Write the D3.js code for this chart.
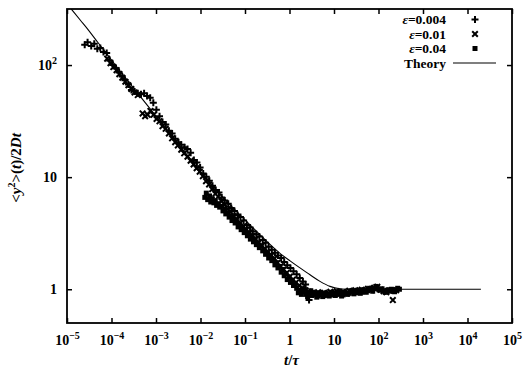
<!DOCTYPE html>
<html>
<head>
<meta charset="utf-8">
<script src="https://cdn.jsdelivr.net/npm/d3@7/dist/d3.min.js"></script>
<style>
  html, body { margin: 0; padding: 0; background: #fff; }
  svg { display: block; }
  text { font-family: "Liberation Serif", "DejaVu Serif", serif; fill: #000; }
</style>
</head>
<body>
<svg id="chart" width="523" height="367"></svg>
<script>
// Mean-square displacement <y^2>(t)/2Dt versus t/tau, three values of epsilon.
const xTickExps = [-5, -4, -3, -2, -1, 0, 1, 2, 3, 4, 5];
const yTickValues = [1, 10, 100];
const seriesNames = ["ε=0.004", "ε=0.01", "ε=0.04"];

// epsilon = 0.004  (t/tau, <y^2>/2Dt)
const eps004 = [
  [2.5e-5, 152], [2.9e-5, 160], [3.5e-5, 148], [4.1e-5, 155], [4.8e-5, 140], [5.6e-5, 142],
  [6.6e-5, 131], [7.8e-5, 128], [9.1e-5, 110], [1.07e-4, 100], [1.26e-4, 93], [1.48e-4, 86],
  [1.74e-4, 79], [2.0e-4, 73], [2.4e-4, 67], [2.8e-4, 60], [3.3e-4, 58], [3.9e-4, 56],
  [4.6e-4, 55], [5.4e-4, 56], [6.3e-4, 53], [7.4e-4, 51], [8.7e-4, 46], [1.02e-3, 40],
  [1.2e-3, 35], [1.4e-3, 31], [1.66e-3, 29.5], [1.95e-3, 26], [2.3e-3, 24.5], [2.7e-3, 22],
  [3.2e-3, 20.5], [3.7e-3, 19.5], [4.4e-3, 18.5], [5.1e-3, 17.8], [6.0e-3, 16.5], [7.1e-3, 14.2],
  [8.3e-3, 13.5], [9.8e-3, 12.2], [1.15e-2, 10.8], [1.35e-2, 10.1], [1.58e-2, 9.3], [1.86e-2, 8.4],
  [2.2e-2, 7.7], [2.6e-2, 7.3], [3.0e-2, 6.6], [3.5e-2, 6.2], [4.2e-2, 5.8], [4.9e-2, 5.3],
  [5.8e-2, 5.0], [6.8e-2, 4.6], [7.9e-2, 4.4], [9.3e-2, 4.1], [0.11, 3.75], [0.13, 3.55],
  [0.15, 3.3], [0.18, 3.1], [0.21, 2.95], [0.25, 2.75], [0.29, 2.6], [0.34, 2.4],
  [0.40, 2.25], [0.47, 2.12], [0.55, 2.0], [0.65, 1.9], [0.76, 1.75], [0.89, 1.64],
  [1.05, 1.55], [1.23, 1.45], [1.45, 1.36], [1.7, 1.26], [2.0, 1.17], [2.3, 1.1], [2.75, 0.8]
];

// epsilon = 0.01
const eps01 = [
  [8.0e-5, 114], [9.5e-5, 104], [1.1e-4, 96], [1.3e-4, 90], [1.5e-4, 83], [1.75e-4, 77],
  [2.05e-4, 71], [2.4e-4, 66], [2.8e-4, 61], [3.3e-4, 57], [3.9e-4, 54], [5.0e-4, 37],
  [5.7e-4, 35], [6.5e-4, 36], [7.5e-4, 39], [8.8e-4, 36], [1.03e-3, 33], [1.2e-3, 31.5],
  [1.4e-3, 28.5], [1.65e-3, 27], [1.95e-3, 24.5], [2.3e-3, 22.2], [2.7e-3, 20.5], [3.1e-3, 19.2],
  [3.7e-3, 17.6], [4.3e-3, 16.3], [5.1e-3, 15.2], [6.0e-3, 14], [7.0e-3, 13], [8.2e-3, 12],
  [9.6e-3, 11.2], [1.13e-2, 10.2], [1.33e-2, 9.2], [1.56e-2, 8.6], [1.83e-2, 7.8], [2.15e-2, 7.1],
  [2.5e-2, 6.7], [2.95e-2, 6.1], [3.5e-2, 5.7], [4.1e-2, 5.2], [4.8e-2, 4.9], [5.6e-2, 4.5],
  [6.6e-2, 4.2], [7.8e-2, 3.9], [9.1e-2, 3.65], [0.107, 3.4], [0.126, 3.2], [0.148, 3.0],
  [0.174, 2.8], [0.2, 2.6], [0.24, 2.45], [0.28, 2.3], [0.33, 2.15], [0.39, 2.0],
  [0.46, 1.88], [0.54, 1.72], [0.63, 1.6], [0.74, 1.5], [0.87, 1.4], [1.02, 1.3],
  [1.2, 1.22], [1.4, 1.15], [1.65, 1.08], [1.95, 1.03], [2.3, 0.98], [2.7, 0.95],
  [3.2, 0.93], [3.7, 0.9], [4.4, 0.94], [5.1, 0.89], [6.0, 0.93], [7.1, 0.9],
  [8.3, 0.95], [9.8, 0.91], [11.5, 0.96], [13.5, 0.93], [16, 0.95], [19, 0.92],
  [22, 0.97], [26, 0.95], [30, 0.98], [36, 0.96], [42, 0.99], [49, 0.97],
  [58, 1.01], [68, 0.98], [80, 1.03], [94, 1.05], [110, 0.99], [130, 0.96],
  [150, 0.94], [180, 0.97], [210, 0.8], [250, 0.98]
];

// epsilon = 0.04
const eps04 = [
  [0.0125, 6.6], [0.0135, 7.2], [0.0145, 6.3], [0.016, 6.8], [0.017, 6.0], [0.0185, 6.4],
  [0.02, 5.9], [0.0215, 6.1], [0.023, 5.6], [0.025, 5.8], [0.027, 5.4], [0.0295, 5.5],
  [0.032, 5.0], [0.035, 5.2], [0.037, 4.7], [0.041, 4.8], [0.044, 4.4], [0.048, 4.5],
  [0.051, 4.1], [0.056, 4.2], [0.06, 3.9], [0.065, 4.0], [0.07, 3.6], [0.076, 3.75],
  [0.082, 3.4], [0.089, 3.5], [0.096, 3.2], [0.104, 3.3], [0.113, 3.0], [0.122, 3.1],
  [0.132, 2.8], [0.143, 2.9], [0.155, 2.65], [0.167, 2.75], [0.18, 2.5], [0.195, 2.6],
  [0.21, 2.35], [0.23, 2.45], [0.25, 2.2], [0.27, 2.25], [0.29, 2.05], [0.315, 2.1],
  [0.34, 1.9], [0.37, 2.0], [0.4, 1.8], [0.435, 1.85], [0.47, 1.65], [0.51, 1.72],
  [0.55, 1.55], [0.6, 1.6], [0.65, 1.42], [0.7, 1.5], [0.76, 1.32], [0.82, 1.38],
  [0.89, 1.22], [0.97, 1.28], [1.05, 1.15], [1.14, 1.2], [1.23, 1.08], [1.34, 1.1],
  [1.45, 1.02], [1.58, 0.93], [1.7, 0.98], [1.85, 0.9], [2.0, 0.95], [2.15, 1.0],
  [2.35, 0.9], [2.55, 0.86], [2.75, 0.92], [3.0, 0.97], [3.2, 0.88], [3.5, 0.93],
  [3.8, 0.9], [4.1, 0.85], [4.4, 0.87], [4.8, 0.93], [5.2, 0.9], [5.6, 0.86],
  [6.1, 0.88], [6.6, 0.93], [7.2, 0.91], [7.8, 0.87], [8.4, 0.89], [9.1, 0.94],
  [9.9, 0.92], [10.7, 0.88], [11.6, 0.9], [12.6, 0.95], [13.6, 0.91], [14.8, 0.87],
  [16, 0.89], [17.3, 0.94], [18.8, 0.92], [20.3, 0.9], [22, 0.92], [24, 0.97],
  [26, 0.95], [28, 0.91], [30.5, 0.93], [33, 0.98], [36, 0.96], [39, 0.92],
  [42, 0.94], [45, 0.99], [49, 0.97], [53, 0.94], [58, 0.98], [63, 1.02],
  [68, 1.0], [74, 0.96], [80, 1.01], [87, 1.06], [94, 1.04], [102, 0.99],
  [110, 0.98], [120, 1.01], [130, 0.97], [141, 0.94], [152, 0.95], [165, 0.99],
  [180, 0.96], [195, 1.0], [210, 0.98], [230, 0.95], [250, 0.99], [270, 1.02], [295, 1.0]
];

// Theory curve, tabulated
const theory = [
  [1.25e-5, 316], [2e-5, 251], [3e-5, 206], [5e-5, 158], [1e-4, 111], [2e-4, 78],
  [5e-4, 49.5], [1e-3, 35], [2e-3, 24.7], [5e-3, 15.8], [1e-2, 11.2], [2e-2, 8.1],
  [5e-2, 5.5], [0.111, 3.99], [0.2, 3.17], [0.365, 2.51], [0.612, 2.09], [1.03, 1.79],
  [1.72, 1.55], [2.89, 1.345], [4.84, 1.176], [8.13, 1.061], [13.6, 1.012], [23, 1.0],
  [2e4, 1.0]
];

const svg = d3.select("#chart");
const mLeft = 67, mRight = 512, mTop = 9, mBottom = 323;

const x = d3.scaleLog().domain([1e-5, 1e5]).range([mLeft, mRight]);
const y = d3.scaleLog().domain([0.5, Math.pow(10, 2.5)]).range([mBottom, mTop]);

const xTicks = xTickExps.map(e => Math.pow(10, e));

// axes with inward ticks on all four sides
const tk = 5;
const gx = svg.append("g").attr("transform", `translate(0,${mBottom})`)
  .call(d3.axisBottom(x).tickValues(xTicks).tickSizeInner(-tk).tickSizeOuter(0).tickFormat(""));
svg.append("g").attr("transform", `translate(0,${mTop})`)
  .call(d3.axisTop(x).tickValues(xTicks).tickSizeInner(-tk).tickSizeOuter(0).tickFormat(""));
const gy = svg.append("g").attr("transform", `translate(${mLeft},0)`)
  .call(d3.axisLeft(y).tickValues(yTickValues).tickSizeInner(-tk).tickSizeOuter(0).tickFormat(""));
svg.append("g").attr("transform", `translate(${mRight},0)`)
  .call(d3.axisRight(y).tickValues(yTickValues).tickSizeInner(-tk).tickSizeOuter(0).tickFormat(""));

svg.selectAll(".domain").remove();
svg.selectAll(".tick line").attr("stroke", "#000").attr("stroke-width", 1.5);

// x tick labels with superscript exponents
gx.selectAll(".tick").each(function(d, i) {
  const e = xTickExps[i];
  const t = d3.select(this).select("text")
    .attr("y", 22).attr("dy", null)
    .attr("font-size", 14).attr("font-weight", "bold").text(null);
  if (e === 0) { t.text("1"); }
  else if (e === 1) { t.text("10"); }
  else {
    t.append("tspan").text("10");
    t.append("tspan").attr("dy", -6).attr("font-size", 10)
      .text(e < 0 ? "−" + (-e) : String(e));
  }
});

// y tick labels
gy.selectAll(".tick").each(function(d) {
  const t = d3.select(this).select("text")
    .attr("x", -10).attr("font-size", 14).attr("font-weight", "bold").text(null);
  if (d === 1) t.text("1");
  else if (d === 10) t.text("10");
  else {
    t.append("tspan").text("10");
    t.append("tspan").attr("dy", -6).attr("font-size", 10).text(String(Math.log10(d)));
  }
});

// frame
svg.append("rect")
  .attr("x", mLeft).attr("y", mTop)
  .attr("width", mRight - mLeft).attr("height", mBottom - mTop)
  .attr("fill", "none").attr("stroke", "#000").attr("stroke-width", 1.8);

// markers
const plusPath = "M-3.5,0H3.5M0,-3.5V3.5";
const crossPath = "M-2.8,-2.8L2.8,2.8M-2.8,2.8L2.8,-2.8";
const sq = 5;

const plot = svg.append("g");
plot.append("clipPath").attr("id", "clip")
  .append("rect").attr("x", mLeft).attr("y", mTop).attr("width", mRight - mLeft).attr("height", mBottom - mTop);

const theoryLine = d3.line()
  .x(d => x(d[0])).y(d => y(d[1]))
  .curve(d3.curveMonotoneX);

plot.append("path")
  .datum(theory)
  .attr("clip-path", "url(#clip)")
  .attr("fill", "none").attr("stroke", "#000").attr("stroke-width", 1.1)
  .attr("d", theoryLine);

plot.append("g").selectAll("path").data(eps004).join("path")
  .attr("transform", d => `translate(${x(d[0])},${y(d[1])})`)
  .attr("d", plusPath).attr("stroke", "#000").attr("stroke-width", 2).attr("fill", "none");

plot.append("g").selectAll("path").data(eps01).join("path")
  .attr("transform", d => `translate(${x(d[0])},${y(d[1])})`)
  .attr("d", crossPath).attr("stroke", "#000").attr("stroke-width", 2).attr("fill", "none");

plot.append("g").selectAll("rect").data(eps04).join("rect")
  .attr("x", d => x(d[0]) - sq / 2).attr("y", d => y(d[1]) - sq / 2)
  .attr("width", sq).attr("height", sq).attr("fill", "#000");

// legend
const legX = 446, legMark = 475;
const legRows = [19.5, 34, 48.5, 63];
const leg = svg.append("g").attr("font-size", 13.5).attr("font-weight", "bold");
seriesNames.forEach((name, i) => {
  const t = leg.append("text").attr("x", legX).attr("y", legRows[i]).attr("dy", "0.35em")
    .attr("text-anchor", "end");
  t.append("tspan").attr("font-style", "italic").text(name.slice(0, 1));
  t.append("tspan").text(name.slice(1));
});
leg.append("text").attr("x", legX).attr("y", legRows[3]).attr("dy", "0.35em")
  .attr("text-anchor", "end").text("Theory");
leg.append("path").attr("transform", `translate(${legMark},${legRows[0]})`)
  .attr("d", plusPath).attr("stroke", "#000").attr("stroke-width", 2);
leg.append("path").attr("transform", `translate(${legMark},${legRows[1]})`)
  .attr("d", crossPath).attr("stroke", "#000").attr("stroke-width", 2);
leg.append("rect").attr("x", legMark - sq / 2).attr("y", legRows[2] - sq / 2)
  .attr("width", sq).attr("height", sq).attr("fill", "#000");
leg.append("line").attr("x1", 453).attr("x2", 496).attr("y1", legRows[3]).attr("y2", legRows[3])
  .attr("stroke", "#000").attr("stroke-width", 1.1);

// axis titles
const xt = svg.append("text").attr("x", (mLeft + mRight) / 2 + 2).attr("y", 365)
  .attr("text-anchor", "middle").attr("font-size", 15).attr("font-weight", "bold");
xt.append("tspan").attr("font-style", "italic").text("t");
xt.append("tspan").text("/");
xt.append("tspan").attr("font-style", "italic").text("τ");

const yt = svg.append("text").attr("transform", "translate(21,168) rotate(-90)")
  .attr("text-anchor", "middle").attr("font-size", 15).attr("font-weight", "bold");
yt.append("tspan").text("<");
yt.append("tspan").attr("font-style", "italic").text("y");
yt.append("tspan").attr("dy", -6).attr("font-size", 10).text("2");
yt.append("tspan").attr("dy", 6).text(">(");
yt.append("tspan").attr("font-style", "italic").text("t");
yt.append("tspan").text(")/2");
yt.append("tspan").attr("font-style", "italic").text("Dt");
</script>
</body>
</html>
